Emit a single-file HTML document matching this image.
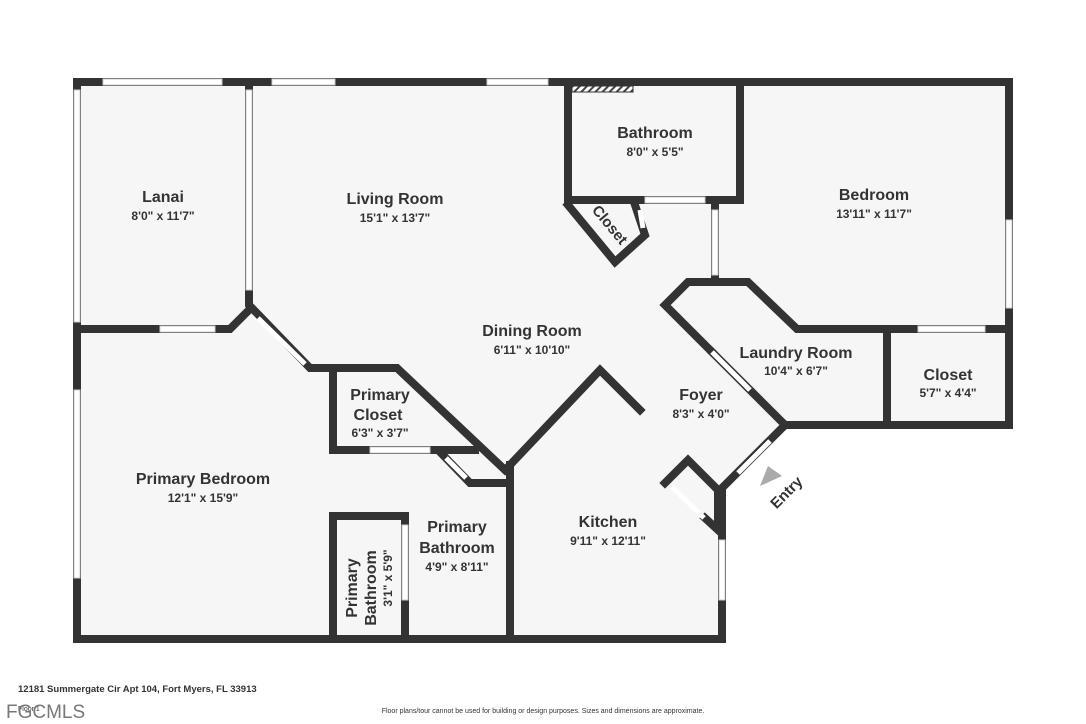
<!DOCTYPE html>
<html><head><meta charset="utf-8"><style>
body{margin:0;background:#fff;width:1086px;height:724px;overflow:hidden;font-family:"Liberation Sans",sans-serif}
svg{position:absolute;left:0;top:0}
</style></head><body>
<svg width="1086" height="724" viewBox="0 0 1086 724">
<defs><pattern id="h" width="5" height="5" patternUnits="userSpaceOnUse" patternTransform="rotate(45)"><rect width="5" height="5" fill="#fff"/><rect width="2" height="5" fill="#444"/></pattern></defs>
<polygon points="74,79 1012,79 1012,428 785,428 722,490 722,642 74,642" fill="#f6f6f6"/>
<g stroke="#333" stroke-width="8" fill="none" stroke-linejoin="miter" stroke-linecap="square">
<polyline points="77,82 1009,82 1009,425 785,425"/>
<polyline points="77,82 77,639 722,639 722,490"/>
<polyline points="785,425 722,488"/>
<polyline points="249,82 249,305 310,368 397,368 505,470"/>
<polyline points="77,329 230,329 249,310"/>
<polyline points="333,368 333,450 475,450"/>
<polyline points="440,452 470,483 508,483"/>
<polyline points="510,465 510,639"/>
<polyline points="510,465 600,370 640,410"/>
<polyline points="333,639 333,516 405,516 405,639"/>
<polyline points="568,82 568,200 740,200 740,82"/>
<polyline points="568,205 615,262 645,235 635,205"/>
<polyline points="715,200 715,282"/>
<polyline points="712,352 665,305 688,282 748,282 797,329 1009,329"/>
<polyline points="712,352 785,425"/>
<polyline points="887,329 887,425"/>
<polyline points="665,483 688,460 718,490 718,530 705,518"/>
</g>
<g stroke="#ccc" stroke-width="1" fill="#fff">
<rect x="103" y="79" width="119" height="6"/><rect x="272" y="79" width="63" height="6"/><rect x="487" y="79" width="61" height="6"/>
<rect x="74" y="90" width="6" height="232"/><rect x="74" y="390" width="6" height="188"/>
<rect x="1006" y="220" width="6" height="88"/>
<rect x="246" y="90" width="6" height="200"/>
<rect x="160" y="326" width="55" height="6"/>
<rect x="370" y="447" width="60" height="6"/>
<rect x="645" y="197" width="60" height="6"/>
<rect x="712" y="210" width="6" height="65"/>
<rect x="918" y="326" width="67" height="6"/>
<rect x="719" y="540" width="6" height="60"/>
<rect x="402" y="525" width="6" height="75"/>
</g>
<g stroke="#fff" stroke-width="5" stroke-linecap="butt">
<line x1="258" y1="318" x2="305" y2="364"/><line x1="712" y1="352" x2="750" y2="390"/><line x1="770" y1="441" x2="738" y2="473"/>
<line x1="446" y1="458" x2="466" y2="478"/><line x1="672" y1="487" x2="704" y2="518"/><line x1="640" y1="210" x2="643" y2="228"/>
</g>
<rect x="572" y="86" width="61" height="6" fill="url(#h)" stroke="#333" stroke-width="1"/>
<polygon points="760,486 782,476 768,466" fill="#aaa"/>
<g fill="#333" font-weight="bold" text-anchor="middle">
<text x="163" y="202" font-size="16">Lanai</text><text x="163" y="220" font-size="12">8'0" x 11'7"</text>
<text x="395" y="204" font-size="16">Living Room</text><text x="395" y="222" font-size="12">15'1" x 13'7"</text>
<text x="655" y="138" font-size="16">Bathroom</text><text x="655" y="156" font-size="12">8'0" x 5'5"</text>
<text x="874" y="200" font-size="16">Bedroom</text><text x="874" y="218" font-size="12">13'11" x 11'7"</text>
<text x="532" y="336" font-size="16">Dining Room</text><text x="532" y="354" font-size="12">6'11" x 10'10"</text>
<text x="796" y="358" font-size="16">Laundry Room</text><text x="796" y="375" font-size="12">10'4" x 6'7"</text>
<text x="948" y="380" font-size="16">Closet</text><text x="948" y="397" font-size="12">5'7" x 4'4"</text>
<text x="701" y="400" font-size="16">Foyer</text><text x="701" y="418" font-size="12">8'3" x 4'0"</text>
<text x="380" y="400" font-size="16">Primary</text><text x="378" y="420" font-size="16">Closet</text><text x="380" y="437" font-size="12">6'3" x 3'7"</text>
<text x="203" y="484" font-size="16">Primary Bedroom</text><text x="203" y="502" font-size="12">12'1" x 15'9"</text>
<text x="457" y="532" font-size="16">Primary</text><text x="457" y="553" font-size="16">Bathroom</text><text x="457" y="571" font-size="12">4'9" x 8'11"</text>
<text x="608" y="527" font-size="16">Kitchen</text><text x="608" y="545" font-size="12">9'11" x 12'11"</text>
<text transform="translate(357,588) rotate(-90)" font-size="16">Primary</text>
<text transform="translate(376,588) rotate(-90)" font-size="16">Bathroom</text>
<text transform="translate(392,578) rotate(-90)" font-size="12">3'1" x 5'9"</text>
<text transform="translate(606,228) rotate(50)" font-size="15">Closet</text>
<text transform="translate(790,496) rotate(-45)" font-size="15">Entry</text>
</g>
<text x="18" y="692" font-size="9.5" font-weight="bold" fill="#333">12181 Summergate Cir Apt 104, Fort Myers, FL 33913</text>
<text x="18" y="711" font-size="7" fill="#333">Floor 1</text>
<text x="6" y="718" font-size="19" fill="#777">FGCMLS</text>
<text x="543" y="713" font-size="7" fill="#333" text-anchor="middle">Floor plans/tour cannot be used for building or design purposes. Sizes and dimensions are approximate.</text>
</svg>
</body></html>
